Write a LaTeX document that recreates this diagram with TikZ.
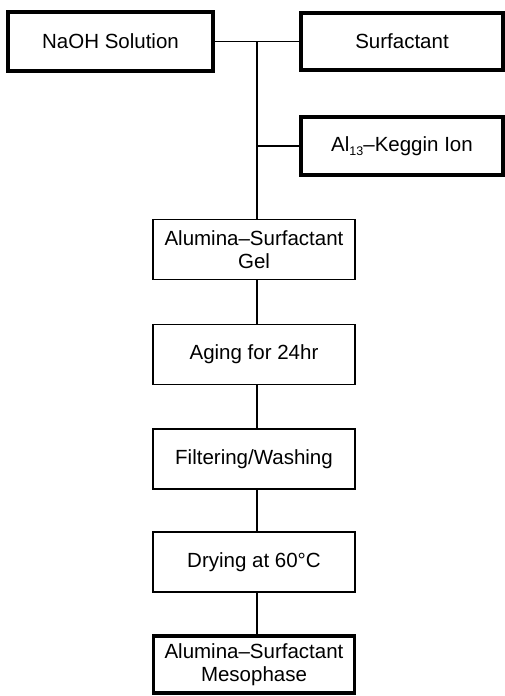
\documentclass[tikz,border=0pt]{standalone}
\usepackage{fontspec}
\setmainfont{Liberation Sans}
\begin{document}
\begin{tikzpicture}[x=1pt,y=-1pt,
  box/.style={draw=black, line width=1.7pt, rectangle, inner sep=0pt,
    minimum width=202pt, minimum height=60pt, align=center,
    font=\fontsize{20.5}{23.5}\selectfont},
  thickbox/.style={box, line width=3.6pt},
  conn/.style={draw=black, line width=1.7pt}]
\useasboundingbox (0,0) rectangle (505,696);
\node[thickbox, minimum width=205pt, minimum height=59pt] (naoh) at (110.5,41.5) {NaOH Solution};
\node[thickbox, minimum width=202pt, minimum height=57pt] (surf) at (402,41.5) {Surfactant};
\node[thickbox, minimum width=202pt, minimum height=58pt] (al) at (402,146) {Al{\fontsize{12.5}{12.5}\selectfont\raisebox{-4.5pt}{13}}–Keggin Ion};
\node[box] (gel) at (254,249.5) {Alumina–Surfactant\\Gel};
\node[box] (aging) at (254,354.5) {Aging for 24hr};
\node[box] (filt) at (254,459) {Filtering/Washing};
\node[box] (dry) at (254,562) {Drying at 60°C};
\node[thickbox, minimum width=201pt, minimum height=57pt] (meso) at (254,664.5) {Alumina–Surfactant\\Mesophase};
\coordinate (j) at (257,41.5);
\coordinate (k) at (257,146);
\draw[conn] (naoh.east) -- (surf.west);
\draw[conn] (j) -- (j |- gel.north);
\draw[conn] (k) -- (al.west);
\draw[conn] (gel.south -| j) -- (aging.north -| j);
\draw[conn] (aging.south -| j) -- (filt.north -| j);
\draw[conn] (filt.south -| j) -- (dry.north -| j);
\draw[conn] (dry.south -| j) -- (meso.north -| j);
\end{tikzpicture}
\end{document}
